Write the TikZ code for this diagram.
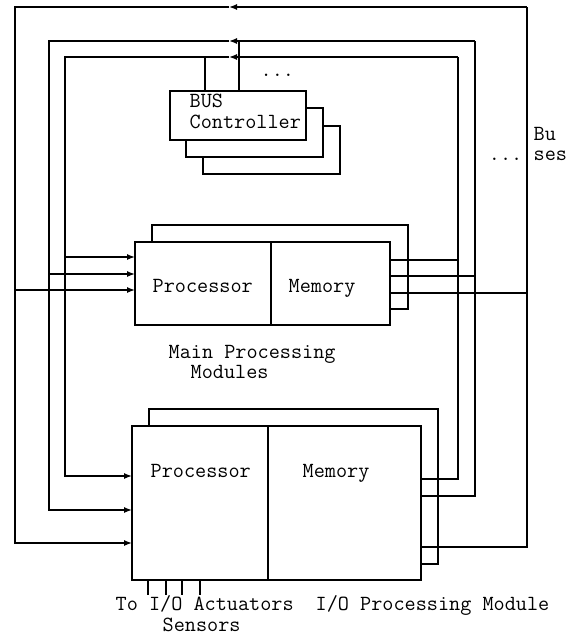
\documentclass[tikz,border=0pt]{standalone}
\usepackage{fontspec}
\usetikzlibrary{arrows.meta,positioning}

\tikzset{every picture/.style={line width=1pt}}
\tikzset{
  box/.style={draw, fill=white, inner sep=0pt, outer sep=0pt, anchor=north west},
  bus/.style={line width=1pt},
  tip/.style={-{Latex[length=6pt,width=4.5pt]}},
  lbl/.style={anchor=base west, inner sep=0pt, font=\ttfamily\fontsize{16.2}{18}\selectfont},
}

\begin{document}
\begin{tikzpicture}[x=0.75pt,y=0.75pt,yscale=-1,xscale=1]
\useasboundingbox (0,0) rectangle (576,636);

%Shapes: Bus controllers (stacked)
\node [box, minimum width=102.75pt, minimum height=36pt] (ctrlc) at (203,126) {};
\node [box, minimum width=102.75pt, minimum height=36.75pt, line width=1.4pt] (ctrlb) at (186,108) {};
\node [box, minimum width=102pt, minimum height=36.75pt] (ctrl) at (170,91) {};

%Shapes: Main processing modules
\node [box, minimum width=192pt, minimum height=63pt] (mback) at (152,225) {};
\node [box, minimum width=102pt, minimum height=62.25pt] (mproc) at (135,242) {};
\node [box, minimum width=89.25pt, minimum height=62.25pt] (mmem) at (mproc.north east) {};

%Shapes: I/O processing module
\node [box, minimum width=216.75pt, minimum height=116.25pt] (ioback) at (149,409) {};
\node [box, minimum width=102pt, minimum height=115.5pt] (ioproc) at (132,426) {};
\node [box, minimum width=114.75pt, minimum height=115.5pt] (iomem) at (ioproc.north east) {};

%Bus corners
\coordinate (b1nw) at (15,7);  \coordinate (b1ne) at (527,7);  \coordinate (b1arr) at (229,7);
\coordinate (b2nw) at (49,41); \coordinate (b2ne) at (475,41); \coordinate (b2arr) at (229,41);
\coordinate (b3nw) at (65,57); \coordinate (b3ne) at (458,57); \coordinate (b3arr) at (229,57);
\coordinate (b2tap) at (239,41);
\coordinate (b3tap) at (205,57);

%Bus 1 (outer)
\draw [bus] (iomem.east |- 0,547) -| (b1ne);
\draw [bus,tip] (b1ne) -- (b1arr);
\draw [bus,tip] (b1arr) -- (b1nw) |- (ioproc.west |- 0,543);
\draw [bus,tip] (b1nw |- 0,290) -- (mproc.west |- 0,290);
\draw [bus] (mmem.east |- 0,293) -- (b1ne |- 0,293);

%Bus 2
\draw [bus] (iomem.east |- 0,496) -| (b2ne);
\draw [bus,tip] (b2ne) -- (b2arr);
\draw [bus,tip] (b2arr) -- (b2nw) |- (ioproc.west |- 0,510);
\draw [bus,tip] (b2nw |- 0,274) -- (mproc.west |- 0,274);
\draw [bus] (mmem.east |- 0,276) -- (b2ne |- 0,276);

%Bus 3
\draw [bus] (iomem.east |- 0,479) -| (b3ne);
\draw [bus,tip] (b3ne) -- (b3arr);
\draw [bus,tip] (b3arr) -- (b3nw) |- (ioproc.west |- 0,476);
\draw [bus,tip] (b3nw |- 0,257) -- (mproc.west |- 0,257);
\draw [bus] (mmem.east |- 0,260) -- (b3ne |- 0,260);

%Controller taps
\draw [bus] (b2tap) -- (b2tap |- ctrl.north);
\draw [bus] (b3tap) -- (b3tap |- ctrl.north);

%Sensor / actuator lines
\foreach \sx in {148,166,182,200}
  \draw [bus] (\sx,580) -- (\sx,595);

% Text Node
\node [lbl] (ctrltext) at (189,107) {BUS};
\node [lbl] (ctrltextb) at (189,128) {Controller};
% Text Node
\node [lbl] (ctrldots) at (260,76) {...};
% Text Node
\node [lbl] (bustext) at (533,140) {Bu};
\node [lbl] (bustextb) at (533,160) {ses};
\node [lbl, anchor=base east] (busdots) at (523,160) {...};
% Text Node
\node [lbl] (mproctext) at (152,292) {Processor};
\node [lbl] (mmemtext) at (288,292) {Memory};
% Text Node
\node [lbl] (mtitle) at (168,358) {Main Processing};
\node [lbl] (mtitleb) at (190,378) {Modules};
% Text Node
\node [lbl] (ioproctext) at (150,477) {Processor};
\node [lbl] (iomemtext) at (302,477) {Memory};
% Text Node
\node [lbl] (iotext) at (115,610) {To I/O Actuators};
\node [lbl] (iotitle) at (315,610) {I/O Processing Module};
\node [lbl] (iotextb) at (162,631) {Sensors};

\end{tikzpicture}
\end{document}
